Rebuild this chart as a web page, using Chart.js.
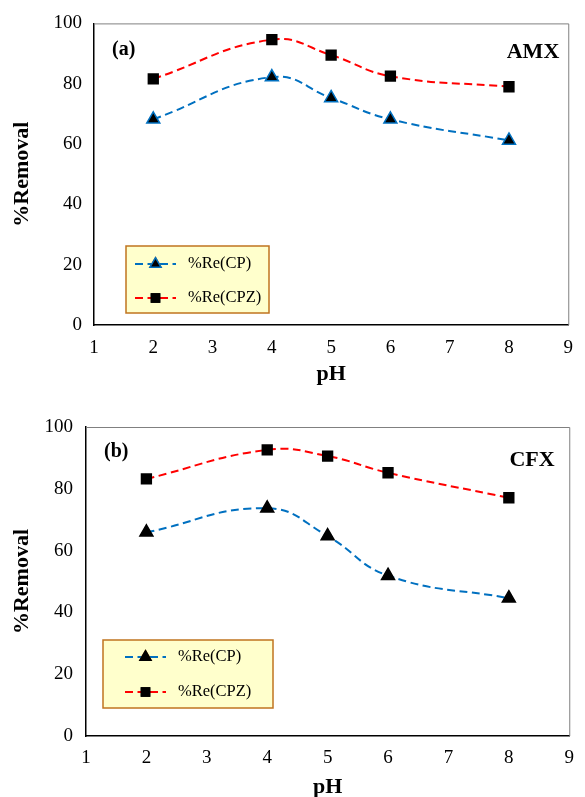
<!DOCTYPE html>
<html>
<head>
<meta charset="utf-8">
<script src="https://cdn.jsdelivr.net/npm/chart.js@4/dist/chart.umd.min.js"></script>
<style>
  html, body { margin: 0; padding: 0; background: #fff; overflow: hidden; }
  .box { position: absolute; left: 0; }
</style>
</head>
<body>
<div class="box" style="top:0"><canvas id="chartA" width="585" height="388"></canvas></div>
<div class="box" style="top:388px"><canvas id="chartB" width="585" height="413"></canvas></div>
<script>
const phValues = [2, 4, 5, 6, 8];
const amxCP = [68.2, 82.2, 75.3, 68.2, 61.2];
const amxCPZ = [81.6, 94.6, 89.5, 82.5, 79.0];
const cfxCP = [65.9, 73.7, 64.7, 51.9, 44.6];
const cfxCPZ = [83.2, 92.6, 90.6, 85.2, 77.1];
const seriesNames = ['%Re(CP)', '%Re(CPZ)'];
const xRange = [1, 9];
const yRange = [0, 100];

const serif = "'Liberation Serif', 'Times New Roman', serif";
const blue = '#0070C0';
const red = '#FF0000';
const dash = [8, 4.5];

function toPoints(ys) {
  return phValues.map((x, i) => ({ x: x, y: ys[i] }));
}

// legend box, panel letter and drug name, plus the thin grey top/right frame
const decorPlugin = {
  id: 'decor',
  afterDraw(chart, args, o) {
    const ctx = chart.ctx;
    const a = chart.chartArea;
    ctx.save();
    ctx.strokeStyle = '#808080';
    ctx.lineWidth = 1;
    ctx.beginPath();
    ctx.moveTo(a.left, a.top + 0.5);
    ctx.lineTo(a.right + 0.5, a.top + 0.5);
    ctx.lineTo(a.right + 0.5, a.bottom);
    ctx.stroke();

    ctx.fillStyle = '#000';
    ctx.font = 'bold 20px ' + serif;
    ctx.textBaseline = 'middle';
    ctx.textAlign = 'left';
    ctx.fillText(o.letter, o.letterX, o.letterY);
    ctx.font = 'bold 22px ' + serif;
    ctx.textAlign = 'center';
    ctx.fillText(o.name, o.nameX, o.nameY);

    const L = o.legend;
    ctx.fillStyle = '#FFFFCC';
    ctx.fillRect(L.x, L.y, L.w, L.h);
    ctx.strokeStyle = '#C0741F';
    ctx.lineWidth = 1.5;
    ctx.strokeRect(L.x, L.y, L.w, L.h);

    chart.data.datasets.forEach((ds, i) => {
      const y = L.rows[i];
      ctx.save();
      ctx.strokeStyle = ds.borderColor;
      ctx.lineWidth = 2;
      ctx.setLineDash(dash);
      ctx.beginPath();
      ctx.moveTo(L.lineX0, y);
      ctx.lineTo(L.lineX1, y);
      ctx.stroke();
      ctx.restore();
      Chart.helpers.drawPoint(ctx, {
        pointStyle: ds.pointStyle,
        radius: ds.pointRadius * 0.85,
        borderWidth: ds.pointBorderWidth,
        rotation: 0
      }, (L.lineX0 + L.lineX1) / 2, y);
      ctx.fillStyle = ds.pointBackgroundColor;
      ctx.strokeStyle = ds.pointBorderColor;
      ctx.lineWidth = ds.pointBorderWidth;
      ctx.fill();
      if (ds.pointBorderWidth) ctx.stroke();
      ctx.fillStyle = '#000';
      ctx.font = '16.5px ' + serif;
      ctx.textAlign = 'left';
      ctx.textBaseline = 'middle';
      ctx.fillText(ds.label, L.textX, y);
    });
    ctx.restore();
  }
};

function makeChart(id, cp, cpz, cpEdge, g) {
  return new Chart(document.getElementById(id), {
    type: 'line',
    data: {
      datasets: [
        {
          label: seriesNames[0],
          data: toPoints(cp),
          borderColor: blue,
          borderWidth: 2,
          borderDash: dash,
          tension: 0.45,
          pointStyle: 'triangle',
          pointRadius: 7.5,
          pointHoverRadius: 7.5,
          pointBackgroundColor: '#000',
          pointBorderColor: cpEdge,
          pointBorderWidth: 1.5
        },
        {
          label: seriesNames[1],
          data: toPoints(cpz),
          borderColor: red,
          borderWidth: 2,
          borderDash: dash,
          tension: 0.45,
          pointStyle: 'rect',
          pointRadius: 8,
          pointHoverRadius: 8,
          pointBackgroundColor: '#000',
          pointBorderColor: '#000',
          pointBorderWidth: 0
        }
      ]
    },
    options: {
      responsive: false,
      animation: false,
      events: [],
      layout: { padding: { top: g.top, right: g.right, left: 0, bottom: 0 } },
      plugins: {
        legend: { display: false },
        tooltip: { enabled: false },
        decor: g.decor
      },
      scales: {
        x: {
          type: 'linear',
          min: xRange[0],
          max: xRange[1],
          afterFit(s) { s.height = g.xh; },
          grid: { display: false, drawTicks: false, tickLength: 0 },
          border: { display: true, color: '#000', width: 1.5 },
          ticks: { stepSize: 1, padding: g.xpad, color: '#000', font: { family: serif, size: 19 } },
          title: { display: true, text: 'pH', color: '#000', padding: { top: 0, bottom: 0 },
                   font: { family: serif, size: 22, weight: 'bold' } }
        },
        y: {
          min: yRange[0],
          max: yRange[1],
          afterFit(s) { s.width = g.yw; },
          grid: { display: false, drawTicks: false, tickLength: 0 },
          border: { display: true, color: '#000', width: 1.5 },
          ticks: { stepSize: 20, padding: g.ypad, color: '#000', font: { family: serif, size: 19 } },
          title: { display: true, text: '%Removal', color: '#000', padding: { top: 9, bottom: 0 },
                   font: { family: serif, size: 22, weight: 'bold' } }
        }
      }
    },
    plugins: [decorPlugin]
  });
}

makeChart('chartA', amxCP, amxCPZ, blue, {
  top: 22, right: 7, xh: 63, yw: 94, xpad: 12, ypad: 12,
  decor: {
    letter: '(a)', letterX: 112, letterY: 50,
    name: 'AMX', nameX: 533, nameY: 52,
    legend: { x: 126, y: 246, w: 143, h: 67, rows: [264, 298], lineX0: 135, lineX1: 176, textX: 188 }
  }
});

makeChart('chartB', cfxCP, cfxCPZ, '#000', {
  top: 39, right: 11, xh: 65, yw: 86, xpad: 11, ypad: 13,
  decor: {
    letter: '(b)', letterX: 104, letterY: 64,
    name: 'CFX', nameX: 532, nameY: 72,
    legend: { x: 103, y: 252, w: 170, h: 68, rows: [269, 304], lineX0: 125, lineX1: 166, textX: 178 }
  }
});
</script>
</body>
</html>
